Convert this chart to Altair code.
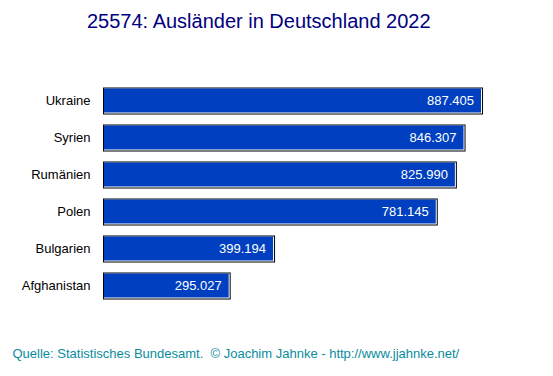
import altair as alt
import pandas as pd

countries = ["Ukraine", "Syrien", "Rumänien", "Polen", "Bulgarien", "Afghanistan"]
values = [887405, 846307, 825990, 781145, 399194, 295027]
labels = [f"{v:,}".replace(",", ".") for v in values]

df = pd.DataFrame({"land": countries, "wert": values, "label": labels})

FONT = "Liberation Sans"
footer = "Quelle: Statistisches Bundesamt.\u00a0 \u00a9 Joachim Jahnke - http://www.jjahnke.net/"

y_enc = alt.Y(
    "land:N",
    sort=countries,
    scale=alt.Scale(paddingInner=0, paddingOuter=0),
    axis=alt.Axis(title=None, ticks=False, domain=False, labelPadding=13,
                  labelFontSize=13, labelColor="black", labelFont=FONT),
)
x_enc = alt.X(
    "wert:Q",
    scale=alt.Scale(domain=[0, 1000000]),
    axis=alt.Axis(title=footer, labels=False, ticks=False, domain=False, grid=False,
                  titleX=-91, titleY=52.5, titleAlign="left", titleBaseline="alphabetic",
                  titleFont=FONT, titleFontSize=13, titleFontWeight="normal",
                  titleColor="#088C9E"),
)

base = alt.Chart(df).encode(y=y_enc, x=x_enc)

shadow = base.mark_bar(color="black", size=27, xOffset=2).encode(x2=alt.datum(0))
gap = base.mark_bar(color="white", size=25, xOffset=1, x2Offset=1).encode(x2=alt.datum(0))
bar = base.mark_bar(color="#0040C0", size=24, x2Offset=1, yOffset=-0.5).encode(x2=alt.datum(0))
txt = base.mark_text(align="right", baseline="middle", dx=-7, color="white",
                     fontSize=13, font=FONT).encode(text="label:N")

chart = alt.layer(shadow, gap, bar, txt).properties(
    width=426,
    height=222,
    autosize="none",
    background="white",
    padding={"left": 103, "top": 82.5, "right": 24, "bottom": 71.5},
    title=alt.TitleParams(
        "25574: Ausländer in Deutschland 2022",
        fontSize=20, font=FONT, color="#000080", fontWeight="normal",
        anchor="start", frame="group", dx=-16, baseline="alphabetic", offset=34.5,
    ),
).configure_view(strokeWidth=0, stroke="transparent")

chart.save("out.html", embed_options={"renderer": "svg", "actions": False})
